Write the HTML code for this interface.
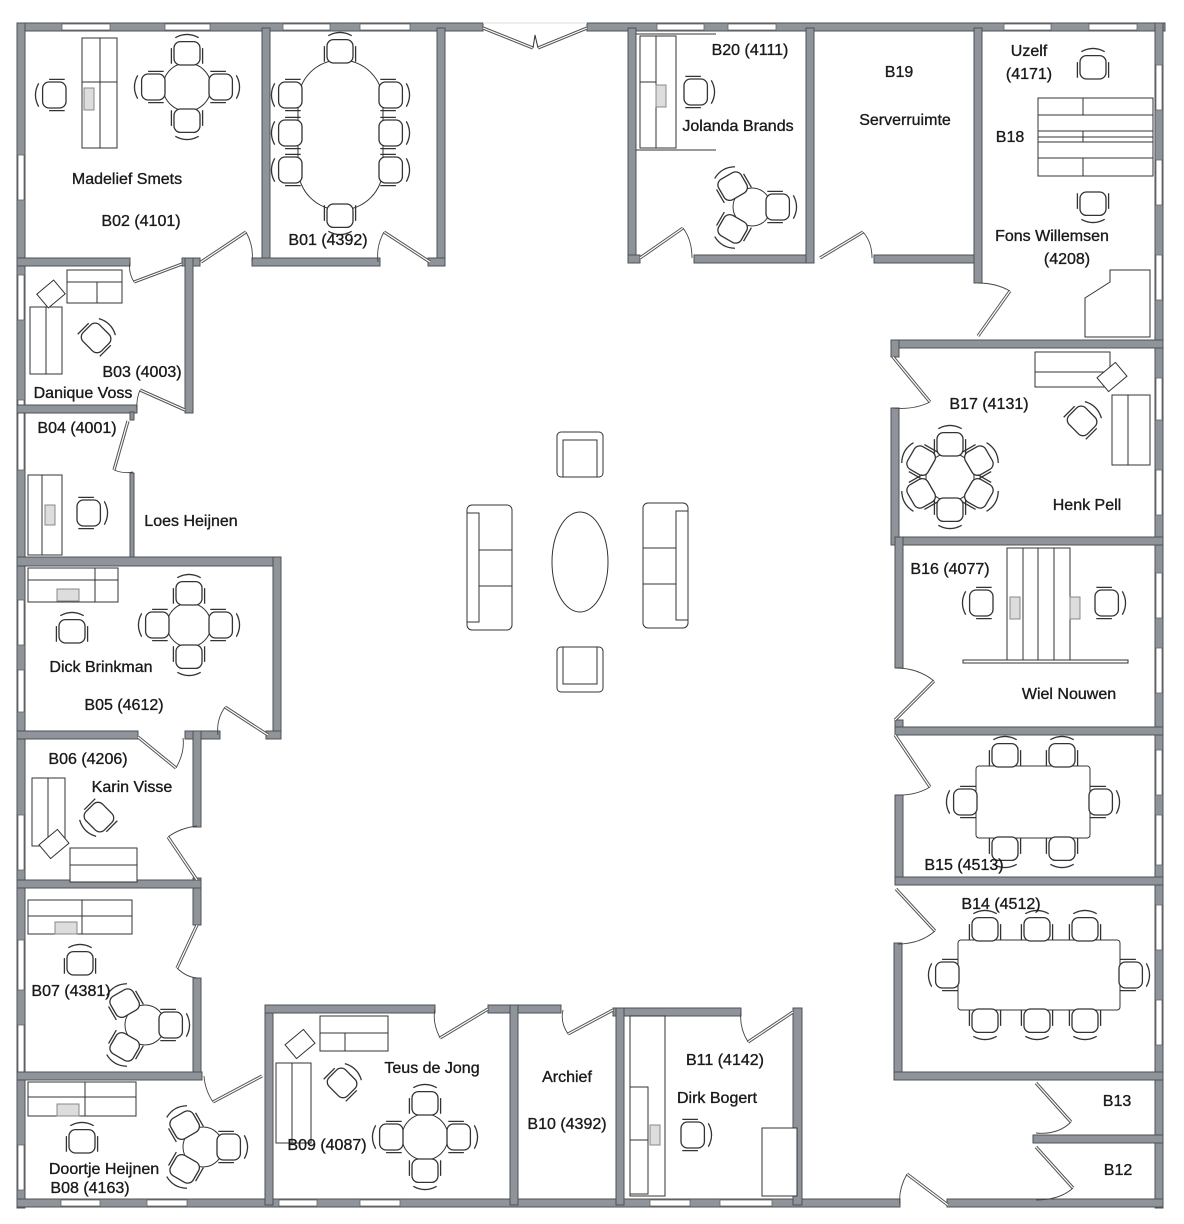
<!DOCTYPE html>
<html><head><meta charset="utf-8"><style>
html,body{margin:0;padding:0;background:#fff;}
svg{display:block;}
text{font-family:"Liberation Sans",sans-serif;font-size:16px;fill:#1a1a1a;stroke:#1a1a1a;stroke-width:0.35;text-anchor:middle;}
.w{fill:#8e9499;stroke:#4d5257;stroke-width:1;}
.f{fill:#fff;stroke:#333;stroke-width:1;}
.l{fill:none;stroke:#333;stroke-width:1;}
.d{fill:none;stroke:#555;stroke-width:3.2;}
.di{fill:none;stroke:#fff;stroke-width:1.2;}
.a{fill:none;stroke:#444;stroke-width:0.9;}
</style></head><body>
<svg width="1184" height="1224" viewBox="0 0 1184 1224" xmlns="http://www.w3.org/2000/svg">
<defs>
<g id="c"><g transform="scale(1.3)"><rect x="-10" y="-8" width="20" height="18" rx="5" class="f" stroke-width="0.8"/><path d="M-12,-3 v12 M12,-3 v12 M-9,-11 q9,-5 18,0" class="l" stroke-width="0.8"/></g></g>
</defs>

<!-- OUTER WALLS -->
<rect class="w" x="17" y="23" width="466" height="8"/>
<rect class="w" x="587" y="23" width="578" height="8"/>
<rect class="w" x="17" y="23" width="8" height="1185"/>
<rect class="w" x="1155" y="23" width="8" height="1185"/>
<rect class="w" x="17" y="1199" width="883" height="8"/>
<rect class="w" x="947" y="1199" width="216" height="8"/>
<line x1="483" y1="23" x2="587" y2="23" stroke="#ddd"/>
<path class="d" d="M483,28 L533,48 M587,28 L538,48"/><path class="di" d="M483,28 L533,48 M587,28 L538,48"/>
<path class="l" d="M533,48 L535,35 L538,48"/>

<g fill="#fff" stroke="#666" stroke-width="0.8">
<rect x="62" y="24" width="48" height="6"/><rect x="165" y="24" width="45" height="6"/><rect x="283" y="24" width="47" height="6"/><rect x="360" y="24" width="50" height="6"/>
<rect x="657" y="24" width="47" height="6"/><rect x="728" y="24" width="48" height="6"/><rect x="1004" y="24" width="47" height="6"/><rect x="1089" y="24" width="48" height="6"/>
<rect x="61" y="1200" width="39" height="6"/><rect x="147" y="1200" width="40" height="6"/><rect x="279" y="1200" width="38" height="6"/><rect x="360" y="1200" width="40" height="6"/><rect x="650" y="1200" width="40" height="6"/><rect x="720" y="1200" width="52" height="6"/>
<rect x="18" y="155" width="6" height="45"/><rect x="18" y="275" width="6" height="45"/><rect x="18" y="400" width="6" height="70"/><rect x="18" y="600" width="6" height="45"/><rect x="18" y="670" width="6" height="42"/><rect x="18" y="815" width="6" height="55"/><rect x="18" y="940" width="6" height="50"/><rect x="18" y="1025" width="6" height="50"/><rect x="18" y="1145" width="6" height="45"/>
<rect x="1156" y="65" width="6" height="45"/><rect x="1156" y="160" width="6" height="45"/><rect x="1156" y="255" width="6" height="45"/><rect x="1156" y="378" width="6" height="42"/><rect x="1156" y="470" width="6" height="45"/><rect x="1156" y="573" width="6" height="45"/><rect x="1156" y="648" width="6" height="45"/><rect x="1156" y="750" width="6" height="45"/><rect x="1156" y="815" width="6" height="50"/><rect x="1156" y="905" width="6" height="45"/><rect x="1156" y="1000" width="6" height="45"/>
</g>

<rect class="w" x="262" y="28" width="8" height="238"/>
<rect class="w" x="437" y="28" width="8" height="238"/>
<rect class="w" x="252" y="258" width="128" height="8"/>
<rect class="w" x="428" y="258" width="17" height="8"/>
<rect class="w" x="17" y="258" width="113" height="8"/>
<rect class="w" x="182" y="258" width="18" height="8"/>
<rect class="w" x="185" y="258" width="8" height="155"/>
<rect class="w" x="17" y="405" width="120" height="8"/>
<rect class="w" x="130" y="412" width="4" height="8"/>
<rect class="w" x="130" y="473" width="4" height="85"/>
<rect class="w" x="17" y="557" width="264" height="9"/>
<rect class="w" x="273" y="557" width="8" height="181"/>
<rect class="w" x="17" y="731" width="121" height="8"/>
<rect class="w" x="185" y="731" width="35" height="8"/>
<rect class="w" x="266" y="731" width="15" height="8"/>
<rect class="w" x="193" y="731" width="8" height="96"/>
<rect class="w" x="193" y="878" width="8" height="47"/>
<rect class="w" x="17" y="880" width="184" height="8"/>
<rect class="w" x="193" y="978" width="8" height="102"/>
<rect class="w" x="17" y="1072" width="185" height="8"/>
<rect class="w" x="265" y="1005" width="8" height="200"/>
<rect class="w" x="265" y="1005" width="170" height="8"/>
<rect class="w" x="488" y="1005" width="73" height="8"/>
<rect class="w" x="510" y="1005" width="8" height="200"/>
<rect class="w" x="613" y="1008" width="128" height="8"/>
<rect class="w" x="616" y="1008" width="8" height="197"/>
<rect class="w" x="793" y="1008" width="9" height="197"/>
<rect class="w" x="628" y="28" width="8" height="235"/>
<rect class="w" x="628" y="255" width="12" height="8"/>
<rect class="w" x="694" y="255" width="120" height="8"/>
<rect class="w" x="806" y="28" width="8" height="235"/>
<rect class="w" x="874" y="255" width="108" height="8"/>
<rect class="w" x="974" y="28" width="8" height="255"/>
<rect class="w" x="891" y="340" width="272" height="8"/>
<rect class="w" x="891" y="340" width="8" height="17"/>
<rect class="w" x="891" y="408" width="8" height="137"/>
<rect class="w" x="895" y="537" width="268" height="8"/>
<rect class="w" x="895" y="537" width="8" height="131"/>
<rect class="w" x="895" y="720" width="8" height="15"/>
<rect class="w" x="895" y="727" width="268" height="8"/>
<rect class="w" x="895" y="795" width="8" height="90"/>
<rect class="w" x="895" y="877" width="268" height="8"/>
<rect class="w" x="894" y="943" width="8" height="137"/>
<rect class="w" x="894" y="1072" width="269" height="8"/>
<rect class="w" x="1033" y="1135" width="130" height="8"/>

<g>
<path class="d" d="M201,262 L246,232 M182,264 L134,282 M430,262 L384,232 M185,410 L140,390 M128,421 L114,470 M268,735 L225,707 M138,737 L176,768 M197,880 L168,837 M197,925 L177,968 M262,1076 L213,1102 M488,1009 L440,1038 M613,1010 L568,1034 M793,1012 L748,1042 M948,1205 L907,1174 M1036,1083 L1071,1122 M1036,1147 L1073,1188 M896,889 L935,931 M895,735 L930,787 M895,720 L934,681 M893,357 L930,402 M978,336 L1010,291 M640,258 L683,228 M820,258 L863,232"/>
<path class="di" d="M201,262 L246,232 M182,264 L134,282 M430,262 L384,232 M185,410 L140,390 M128,421 L114,470 M268,735 L225,707 M138,737 L176,768 M197,880 L168,837 M197,925 L177,968 M262,1076 L213,1102 M488,1009 L440,1038 M613,1010 L568,1034 M793,1012 L748,1042 M948,1205 L907,1174 M1036,1083 L1071,1122 M1036,1147 L1073,1188 M896,889 L935,931 M895,735 L930,787 M895,720 L934,681 M893,357 L930,402 M978,336 L1010,291 M640,258 L683,228 M820,258 L863,232"/>
<path class="a" d="M246,232 Q254,246 252,262 M134,282 Q128,272 130,262 M384,232 Q376,246 378,262 M140,390 Q136,400 137,410 M114,470 Q124,474 133,472 M225,707 Q216,720 218,735 M176,768 Q185,752 183,738 M168,837 Q180,828 197,826 M177,968 Q186,977 197,978 M213,1102 Q205,1090 204,1076 M440,1038 Q432,1022 435,1009 M568,1034 Q560,1022 563,1010 M748,1042 Q739,1027 741,1012 M907,1174 Q898,1190 900,1205 M1071,1122 Q1058,1135 1036,1133 M1073,1188 Q1060,1200 1036,1200 M935,931 Q920,944 898,944 M930,787 Q915,796 896,795 M934,681 Q918,668 896,668 M930,402 Q914,410 893,408 M1010,291 Q996,283 978,283 M683,228 Q692,240 692,258 M863,232 Q872,242 872,258"/>
</g>

<g>
<rect class="f" x="82" y="38" width="35" height="110"/><line class="l" x1="100" y1="38" x2="100" y2="148"/><line class="l" x1="82" y1="82" x2="117" y2="82"/>
<rect x="84" y="88" width="10" height="22" fill="#ddd" stroke="#888"/>
<use href="#c" transform="translate(53,95) rotate(-90)"/>
<circle class="f" cx="187" cy="87" r="24"/>
<use href="#c" transform="translate(187,52)"/><use href="#c" transform="translate(187,122) rotate(180)"/><use href="#c" transform="translate(152,87) rotate(-90)"/><use href="#c" transform="translate(222,87) rotate(90)"/>
<rect class="f" x="298" y="60" width="85" height="150" rx="42"/>
<use href="#c" transform="translate(340,50)"/><use href="#c" transform="translate(340,217) rotate(180)"/>
<use href="#c" transform="translate(289,95) rotate(-90)"/><use href="#c" transform="translate(289,133) rotate(-90)"/><use href="#c" transform="translate(289,170) rotate(-90)"/>
<use href="#c" transform="translate(392,95) rotate(90)"/><use href="#c" transform="translate(392,133) rotate(90)"/><use href="#c" transform="translate(392,170) rotate(90)"/>
<rect class="f" x="67" y="270" width="55" height="33"/><line class="l" x1="67" y1="282" x2="122" y2="282"/><line class="l" x1="97" y1="282" x2="97" y2="303"/>
<rect class="f" x="30" y="307" width="32" height="67"/><line class="l" x1="46" y1="307" x2="46" y2="374"/>
<rect class="f" x="40" y="285" width="22" height="18" transform="rotate(-40 51 294)"/>
<use href="#c" transform="translate(97,337) rotate(45)"/>
<rect class="f" x="28" y="475" width="34" height="80"/><line class="l" x1="42" y1="475" x2="42" y2="555"/><rect x="45" y="505" width="10" height="20" fill="#ddd" stroke="#888"/>
<use href="#c" transform="translate(90,513) rotate(90)"/>
<rect class="f" x="28" y="568" width="90" height="34"/><line class="l" x1="28" y1="580" x2="118" y2="580"/><line class="l" x1="95" y1="568" x2="95" y2="602"/><rect x="57" y="589" width="22" height="12" fill="#ddd" stroke="#888"/>
<use href="#c" transform="translate(72,630)"/>
<circle class="f" cx="189" cy="625" r="22"/>
<use href="#c" transform="translate(189,592)"/><use href="#c" transform="translate(189,658) rotate(180)"/><use href="#c" transform="translate(156,625) rotate(-90)"/><use href="#c" transform="translate(222,625) rotate(90)"/>
<rect class="f" x="32" y="778" width="33" height="68"/><line class="l" x1="48" y1="778" x2="48" y2="846"/>
<rect class="f" x="70" y="848" width="67" height="34"/><line class="l" x1="70" y1="865" x2="137" y2="865"/>
<rect class="f" x="42" y="835" width="24" height="18" transform="rotate(-40 54 844)"/>
<use href="#c" transform="translate(98,818) rotate(-135)"/>
<rect class="f" x="28" y="900" width="104" height="34"/><line class="l" x1="28" y1="916" x2="132" y2="916"/><line class="l" x1="82" y1="900" x2="82" y2="934"/><rect x="55" y="922" width="22" height="12" fill="#ddd" stroke="#888"/>
<use href="#c" transform="translate(80,962)"/>
<circle class="f" cx="145" cy="1025" r="20"/>
<use href="#c" transform="translate(124,1002) rotate(-30)"/><use href="#c" transform="translate(124,1048) rotate(210)"/><use href="#c" transform="translate(172,1025) rotate(90)"/>
<rect class="f" x="28" y="1082" width="108" height="34"/><line class="l" x1="28" y1="1097" x2="136" y2="1097"/><line class="l" x1="85" y1="1082" x2="85" y2="1116"/><rect x="57" y="1104" width="22" height="12" fill="#ddd" stroke="#888"/>
<use href="#c" transform="translate(82,1140)"/>
<circle class="f" cx="203" cy="1147" r="20"/>
<use href="#c" transform="translate(184,1124) rotate(-30)"/><use href="#c" transform="translate(184,1170) rotate(210)"/><use href="#c" transform="translate(230,1147) rotate(90)"/>
<rect class="f" x="320" y="1016" width="68" height="35"/><line class="l" x1="320" y1="1033" x2="388" y2="1033"/><line class="l" x1="345" y1="1033" x2="345" y2="1051"/>
<rect class="f" x="276" y="1063" width="35" height="80"/><line class="l" x1="292" y1="1063" x2="292" y2="1143"/>
<rect class="f" x="288" y="1035" width="24" height="18" transform="rotate(-40 300 1044)"/>
<use href="#c" transform="translate(343,1082) rotate(45)"/>
<circle class="f" cx="425" cy="1137" r="23"/>
<use href="#c" transform="translate(425,1102)"/><use href="#c" transform="translate(425,1172) rotate(180)"/><use href="#c" transform="translate(390,1137) rotate(-90)"/><use href="#c" transform="translate(460,1137) rotate(90)"/>
<rect class="f" x="630" y="1016" width="35" height="180"/><rect class="f" x="630" y="1087" width="18" height="107"/><line class="l" x1="630" y1="1140" x2="648" y2="1140"/><rect x="650" y="1125" width="10" height="20" fill="#ddd" stroke="#888"/>
<use href="#c" transform="translate(694,1135) rotate(90)"/>
<rect class="f" x="762" y="1128" width="35" height="68"/>
<rect class="f" x="640" y="36" width="36" height="112"/><line class="l" x1="656" y1="36" x2="656" y2="148"/><line class="l" x1="640" y1="82" x2="656" y2="82"/><rect x="656" y="85" width="10" height="22" fill="#ddd" stroke="#888"/>
<line class="l" x1="636" y1="34" x2="716" y2="34"/><line class="l" x1="636" y1="150" x2="716" y2="150"/>
<use href="#c" transform="translate(697,92) rotate(90)"/>
<circle class="f" cx="752" cy="207" r="19"/>
<use href="#c" transform="translate(732,185) rotate(-30)"/><use href="#c" transform="translate(732,230) rotate(210)"/><use href="#c" transform="translate(779,207) rotate(90)"/>
<rect class="f" x="1038" y="98" width="115" height="78"/><line class="l" x1="1083" y1="98" x2="1083" y2="176"/><line class="l" x1="1038" y1="137" x2="1153" y2="137"/>
<rect class="f" x="1038" y="115" width="115" height="16"/><rect class="f" x="1038" y="142" width="115" height="16"/>
<use href="#c" transform="translate(1093,66)"/><use href="#c" transform="translate(1093,205) rotate(180)"/>
<path class="f" d="M1085,337 V298 L1110,282 V270 H1150 V337 Z"/>
<rect class="f" x="1035" y="352" width="75" height="35"/><line class="l" x1="1035" y1="372" x2="1110" y2="372"/>
<rect class="f" x="1112" y="395" width="38" height="70"/><line class="l" x1="1128" y1="395" x2="1128" y2="465"/>
<rect class="f" x="1100" y="368" width="24" height="18" transform="rotate(-40 1112 377)"/>
<use href="#c" transform="translate(1083,420) rotate(45)"/>
<circle class="f" cx="950" cy="477" r="24"/>
<use href="#c" transform="translate(950,443)"/><use href="#c" transform="translate(950,511) rotate(180)"/><use href="#c" transform="translate(920,460) rotate(-60)"/><use href="#c" transform="translate(920,494) rotate(-120)"/><use href="#c" transform="translate(980,460) rotate(60)"/><use href="#c" transform="translate(980,494) rotate(120)"/>
<rect class="f" x="1007" y="548" width="63" height="112"/><line class="l" x1="1023" y1="548" x2="1023" y2="660"/><line class="l" x1="1038" y1="548" x2="1038" y2="660"/><line class="l" x1="1054" y1="548" x2="1054" y2="660"/>
<rect x="1010" y="597" width="10" height="22" fill="#ddd" stroke="#888"/><rect x="1070" y="597" width="10" height="22" fill="#ddd" stroke="#888"/>
<rect class="f" x="963" y="660" width="165" height="3"/>
<use href="#c" transform="translate(980,603) rotate(-90)"/><use href="#c" transform="translate(1108,603) rotate(90)"/>
<rect class="f" x="976" y="766" width="114" height="72" rx="3"/>
<use href="#c" transform="translate(1005,754)"/><use href="#c" transform="translate(1062,754)"/><use href="#c" transform="translate(1005,850) rotate(180)"/><use href="#c" transform="translate(1062,850) rotate(180)"/><use href="#c" transform="translate(964,802) rotate(-90)"/><use href="#c" transform="translate(1102,802) rotate(90)"/>
<rect class="f" x="958" y="940" width="162" height="70" rx="3"/>
<use href="#c" transform="translate(985,928)"/><use href="#c" transform="translate(1037,928)"/><use href="#c" transform="translate(1085,928)"/><use href="#c" transform="translate(985,1022) rotate(180)"/><use href="#c" transform="translate(1037,1022) rotate(180)"/><use href="#c" transform="translate(1085,1022) rotate(180)"/><use href="#c" transform="translate(946,975) rotate(-90)"/><use href="#c" transform="translate(1132,975) rotate(90)"/>
<rect class="f" x="467" y="505" width="45" height="125" rx="5"/><rect class="f" x="467" y="513" width="12" height="109"/><line class="l" x1="479" y1="550" x2="512" y2="550"/><line class="l" x1="479" y1="586" x2="512" y2="586"/>
<rect class="f" x="643" y="503" width="45" height="125" rx="5"/><rect class="f" x="676" y="511" width="12" height="109"/><line class="l" x1="643" y1="548" x2="676" y2="548"/><line class="l" x1="643" y1="584" x2="676" y2="584"/>
<ellipse class="f" cx="580" cy="562" rx="28" ry="50"/>
<rect class="f" x="557" y="432" width="46" height="45" rx="4"/><rect class="f" x="563" y="440" width="34" height="37"/>
<rect class="f" x="557" y="647" width="46" height="45" rx="4"/><rect class="f" x="563" y="647" width="34" height="37"/>
</g>

<text x="127" y="184">Madelief Smets</text>
<text x="141" y="226">B02 (4101)</text>
<text x="328" y="245">B01 (4392)</text>
<text x="142" y="377">B03 (4003)</text>
<text x="83" y="398">Danique Voss</text>
<text x="77" y="433">B04 (4001)</text>
<text x="191" y="526">Loes Heijnen</text>
<text x="101" y="672">Dick Brinkman</text>
<text x="124" y="710">B05 (4612)</text>
<text x="88" y="764">B06 (4206)</text>
<text x="132" y="792">Karin Visse</text>
<text x="71" y="996">B07 (4381)</text>
<text x="104" y="1174">Doortje Heijnen</text>
<text x="90" y="1193">B08 (4163)</text>
<text x="432" y="1073">Teus de Jong</text>
<text x="327" y="1150">B09 (4087)</text>
<text x="567" y="1082">Archief</text>
<text x="567" y="1129">B10 (4392)</text>
<text x="725" y="1065">B11 (4142)</text>
<text x="717" y="1103">Dirk Bogert</text>
<text x="1117" y="1106">B13</text>
<text x="1118" y="1175">B12</text>
<text x="1001" y="909">B14 (4512)</text>
<text x="964" y="870">B15 (4513)</text>
<text x="1069" y="699">Wiel Nouwen</text>
<text x="950" y="574">B16 (4077)</text>
<text x="1087" y="510">Henk Pell</text>
<text x="989" y="409">B17 (4131)</text>
<text x="1052" y="241">Fons Willemsen</text>
<text x="1067" y="264">(4208)</text>
<text x="1010" y="142">B18</text>
<text x="1029" y="56">Uzelf</text>
<text x="1029" y="79">(4171)</text>
<text x="899" y="77">B19</text>
<text x="905" y="125">Serverruimte</text>
<text x="750" y="55">B20 (4111)</text>
<text x="738" y="131">Jolanda Brands</text>
</svg>
</body></html>
